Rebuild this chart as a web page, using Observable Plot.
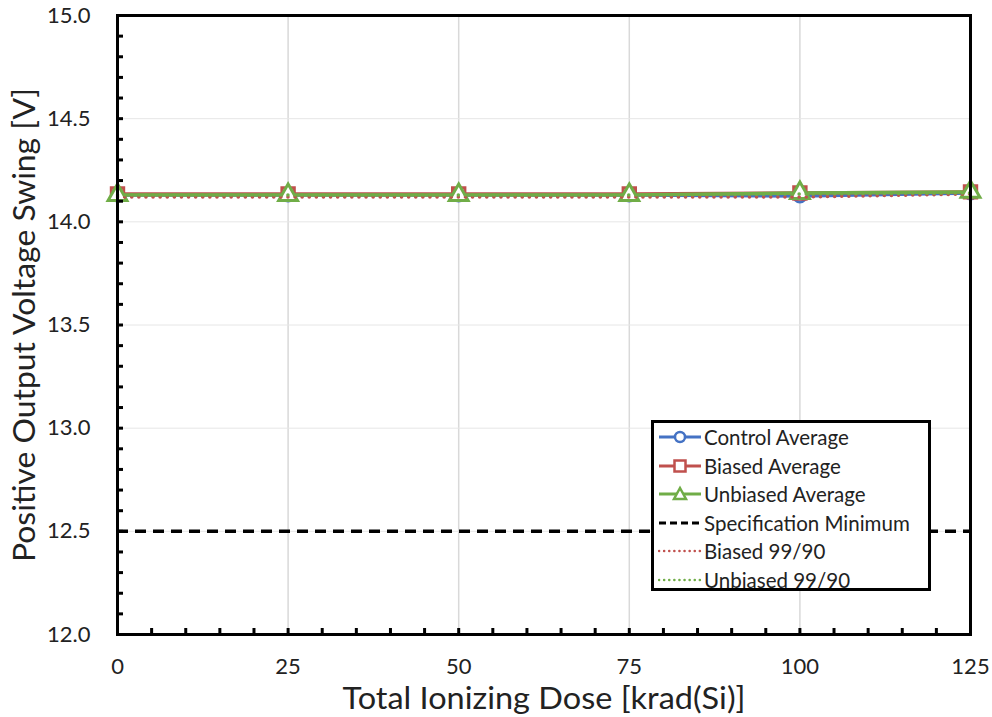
<!DOCTYPE html>
<html><head><meta charset="utf-8">
<script src="https://cdn.jsdelivr.net/npm/d3@7"></script>
<script src="https://cdn.jsdelivr.net/npm/@observablehq/plot@0.6"></script>
<style>
body{margin:0;background:#fff;font-family:Lato,"Open Sans",sans-serif;}
#wrap{position:relative;width:992px;height:717px;}
#legend{position:absolute;left:651px;top:420px;width:274px;height:165px;border:3px solid #000;background:#fff;font-size:20.5px;color:#222;}
.row{display:flex;align-items:center;height:28.5px;padding-left:4px;}
.row svg{margin-right:2px;}
</style></head><body>
<div id="wrap"></div>
<script>
const doses = [0, 25, 50, 75, 100, 125];
const controlAvg = [14.13, 14.13, 14.13, 14.13, 14.125, 14.14];
const biasedAvg = [14.135, 14.135, 14.135, 14.135, 14.14, 14.145];
const unbiasedAvg = [14.13, 14.13, 14.13, 14.13, 14.14, 14.145];
const biased9990 = [14.12, 14.12, 14.12, 14.12, 14.12, 14.135];
const unbiased9990 = [14.13, 14.13, 14.13, 14.13, 14.135, 14.14];
const specMin = 12.5;
const xTicks = [0, 25, 50, 75, 100, 125];
const yTicks = [12.0, 12.5, 13.0, 13.5, 14.0, 14.5, 15.0];

const BLUE = "#4472C4", RED = "#C0504D", GREEN = "#70AD47";
const mk = (vals) => doses.map((d, i) => ({dose: d, v: vals[i]}));
const xMinor = d3.range(0, 126, 5);
const yMinor = d3.range(120, 151, 1).map(d => d / 10);

const chart = Plot.plot({
  width: 992, height: 717,
  marginLeft: 117, marginRight: 22, marginTop: 15, marginBottom: 83,
  style: {fontFamily: "Lato, 'Open Sans', sans-serif", background: "#fff"},
  x: {domain: [0, 125]},
  y: {domain: [12, 15]},
  marks: [
    Plot.gridX(xTicks, {stroke: "#d9d9d9", strokeOpacity: 1, strokeWidth: 1.5}),
    Plot.gridY(yTicks, {stroke: "#e6e6e6", strokeOpacity: 1, strokeWidth: 1}),
    Plot.ruleY([specMin], {stroke: "#000", strokeWidth: 3.5, strokeDasharray: "11,7"}),
    Plot.line(mk(controlAvg), {x: "dose", y: "v", stroke: BLUE, strokeWidth: 3.5}),
    Plot.line(mk(biasedAvg), {x: "dose", y: "v", stroke: RED, strokeWidth: 3.5}),
    Plot.line(mk(unbiasedAvg), {x: "dose", y: "v", stroke: GREEN, strokeWidth: 3.5}),
    Plot.dot(mk(controlAvg), {x: "dose", y: "v", symbol: "circle", r: 6, stroke: BLUE, fill: "#fff", strokeWidth: 3}),
    Plot.dot(mk(biasedAvg), {x: "dose", y: "v", symbol: "square", r: 7, stroke: RED, fill: "#fff", strokeWidth: 3}),
    Plot.dot(mk(unbiasedAvg), {x: "dose", y: "v", symbol: "triangle", r: 7, stroke: GREEN, fill: "#fff", strokeWidth: 3}),
    Plot.line(mk(biased9990), {x: "dose", y: "v", stroke: RED, strokeWidth: 3.5, strokeDasharray: "0.1,7", strokeLinecap: "round"}),
    Plot.line(mk(unbiased9990), {x: "dose", y: "v", stroke: GREEN, strokeWidth: 3.5, strokeDasharray: "0.1,7", strokeLinecap: "round"}),
    Plot.axisX(xMinor, {tickSize: -6, strokeWidth: 3, stroke: "#000", tickFormat: () => "", label: null}),
    Plot.axisY(yMinor, {tickSize: -6, strokeWidth: 3, stroke: "#000", tickFormat: () => "", label: null}),
    Plot.axisX(xTicks, {tickSize: 0, tickPadding: 24, fontSize: 22, fill: "#222", tickFormat: d => String(d),
      label: "Total Ionizing Dose [krad(Si)]", labelAnchor: "center", labelArrow: "none", labelOffset: 74}),
    Plot.axisY(yTicks, {tickSize: 0, tickPadding: 27, fontSize: 22, fill: "#222", tickFormat: d => d.toFixed(1),
      label: "Positive Output Voltage Swing [V]", labelAnchor: "center", labelArrow: "none", labelOffset: 104}),
    Plot.frame({stroke: "#000", strokeWidth: 3})
  ]
});
const sel = d3.select(chart);
sel.selectAll("[aria-label='x-axis label'] text")
  .style("font-size", "30px").attr("fill", "#222")
  .attr("textLength", 403).attr("lengthAdjust", "spacingAndGlyphs");
sel.selectAll("[aria-label='y-axis label'] text")
  .style("font-size", "30px").attr("fill", "#222")
  .attr("textLength", 474).attr("lengthAdjust", "spacingAndGlyphs");
const wrap = document.getElementById("wrap");
wrap.appendChild(chart);

const legendItems = [
  {label: "Control Average", color: BLUE, sym: "circle", dash: null},
  {label: "Biased Average", color: RED, sym: "square", dash: null},
  {label: "Unbiased Average", color: GREEN, sym: "triangle", dash: null},
  {label: "Specification Minimum", color: "#000", sym: null, dash: "7,4"},
  {label: "Biased 99/90", color: RED, sym: null, dash: "0.1,5"},
  {label: "Unbiased 99/90", color: GREEN, sym: null, dash: "0.1,5"}
];
const lg = document.createElement("div");
lg.id = "legend";
for (const it of legendItems) {
  const row = document.createElement("div");
  row.className = "row";
  let sym = "";
  if (it.sym === "circle") sym = `<circle cx="22" cy="10" r="5" fill="#fff" stroke="${it.color}" stroke-width="2.5"/>`;
  if (it.sym === "square") sym = `<rect x="16.5" y="4.5" width="11" height="11" fill="#fff" stroke="${it.color}" stroke-width="2.5"/>`;
  if (it.sym === "triangle") sym = `<path d="M22,4 L28,15 L16,15 Z" fill="#fff" stroke="${it.color}" stroke-width="2.5"/>`;
  const dotted = it.dash && it.dash.startsWith("0.1");
  row.innerHTML = `<svg width="44" height="20"><line x1="1" x2="43" y1="10" y2="10" stroke="${it.color}" stroke-width="${dotted ? 2.5 : 3}" ${it.dash ? `stroke-dasharray="${it.dash}" stroke-linecap="${dotted ? "round" : "butt"}"` : ""}/>${sym}</svg><span>${it.label}</span>`;
  lg.appendChild(row);
}
wrap.appendChild(lg);
</script>
</body></html>
